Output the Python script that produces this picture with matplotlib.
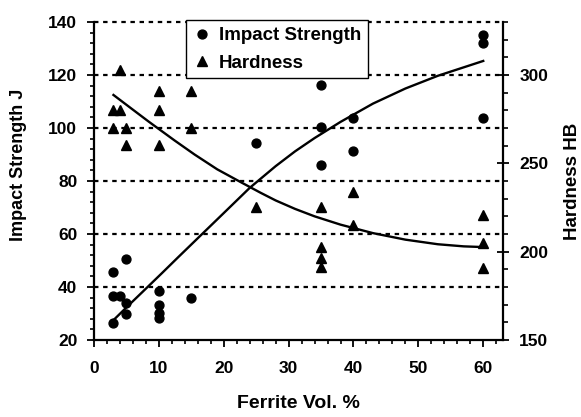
import matplotlib
matplotlib.use("Agg")
import matplotlib.pyplot as plt
from matplotlib.ticker import MultipleLocator
from matplotlib.lines import Line2D

plt.rcParams['font.family'] = ['Liberation Sans', 'DejaVu Sans']
plt.rcParams['font.weight'] = 'bold'

# impact strength measurements (J)
impact_x = [3, 3, 3, 4, 5, 5, 5, 10, 10, 10, 10, 15, 25, 35, 35, 35, 40, 40, 60, 60, 60]
impact_y = [26.3, 45.8, 36.6, 36.6, 50.4, 34.1, 29.8, 38.5, 33.2, 30.3, 28.2, 36.0,
            94.2, 116.2, 100.5, 86.0, 103.7, 91.3, 135.1, 132.0, 103.7]

# hardness measurements (HB)
hard_x = [3, 3, 4, 4, 5, 5, 10, 10, 10, 15, 15, 25, 35, 35, 35, 35, 40, 40, 60, 60, 60]
hard_y = [280.2, 270.2, 302.8, 280.2, 270.2, 260.4, 291.1, 280.2, 260.4, 291.1, 270.2,
          225.1, 225.1, 202.5, 196.2, 191.1, 233.6, 215.1, 220.7, 204.7, 190.6]

# fitted trend lines
impact_fit_x = [3, 5, 7.5, 10.5, 13, 16.5, 20, 24, 28, 31, 34, 38, 43, 48, 53, 57, 60]
impact_fit_y = [27.5, 32.3, 38.2, 45.3, 51.3, 59.6, 67.9, 77.4, 85.6, 91.2, 96.2, 102.3,
                109.2, 114.9, 119.7, 122.9, 125.3]
hard_fit_x = [3, 5.3, 8.4, 12.4, 15.5, 19, 22.7, 25.7, 28, 31, 34, 38, 43, 48, 53, 57, 60]
hard_fit_y = [288.7, 282.3, 273.7, 263.0, 255.0, 246.6, 239.2, 233.3, 229.0, 224.2, 220.0,
              215.3, 210.5, 206.8, 204.2, 203.0, 202.6]

fig = plt.figure(figsize=(5.81, 4.17), dpi=100)
ax = fig.add_axes([94 / 581, 77 / 417, 408.7 / 581, 318 / 417])
ax2 = ax.twinx()

for y in [40, 60, 80, 100, 120, 140]:
    ax.axhline(y, color='black', lw=1.6, ls=(0, (2, 2.1)), zorder=1, clip_on=False)

ax.plot(impact_x, impact_y, 'o', color='black', ms=6.4, zorder=3)
ax.plot(impact_fit_x, impact_fit_y, '-', color='black', lw=1.7, zorder=3,
        solid_joinstyle='round')
ax2.plot(hard_x, hard_y, '^', color='black', ms=7.6, zorder=3)
ax2.plot(hard_fit_x, hard_fit_y, '-', color='black', lw=1.7, zorder=3,
         solid_joinstyle='round')

ax.set_xlim(0, 63)
ax.set_ylim(20, 140)
ax2.set_ylim(150, 330)

ax.xaxis.set_major_locator(MultipleLocator(10))
ax.xaxis.set_minor_locator(MultipleLocator(2))
ax.yaxis.set_major_locator(MultipleLocator(20))
ax.yaxis.set_minor_locator(MultipleLocator(4))
ax2.yaxis.set_major_locator(MultipleLocator(50))
ax2.yaxis.set_minor_locator(MultipleLocator(10))

for a in (ax, ax2):
    a.spines['top'].set_visible(False)
    for s in a.spines.values():
        s.set_linewidth(1.6)
ax.spines['right'].set_visible(False)
ax2.spines['left'].set_visible(False)
ax2.spines['bottom'].set_visible(False)

ax.tick_params(axis='both', which='major', direction='out', length=5, width=1.3,
               labelsize=12.5, pad=7)
ax.tick_params(axis='both', which='minor', direction='out', length=3, width=1.2)
ax.tick_params(axis='x', which='major', pad=10)
ax2.tick_params(axis='y', which='major', direction='inout', length=8, width=1.3,
                labelsize=12.5, pad=8)
ax2.tick_params(axis='y', which='minor', direction='out', length=3.5, width=1.2)

ax.set_xlabel('Ferrite Vol. %', fontsize=14, fontweight='bold', labelpad=14)
ax.set_ylabel('Impact Strength J', fontsize=13, fontweight='bold')
ax.yaxis.set_label_coords(-0.165, 0.55)
ax2.set_ylabel('Hardness HB', fontsize=13.5, fontweight='bold')
ax2.yaxis.set_label_coords(1.15, 0.5)

handles = [Line2D([], [], marker='o', ls='none', color='black', ms=6.4),
           Line2D([], [], marker='^', ls='none', color='black', ms=7.6)]
leg = ax2.legend(handles, ['Impact Strength', 'Hardness'], loc='upper left',
                 bbox_to_anchor=(0.225, 1.005), borderaxespad=0, fancybox=False,
                 framealpha=1, edgecolor='black', fontsize=13.5, handlelength=1.0,
                 handletextpad=0.4, labelspacing=0.55, borderpad=0.35)
leg.get_frame().set_linewidth(1.0)
leg.set_zorder(5)

fig.savefig('out.png', dpi=100)
